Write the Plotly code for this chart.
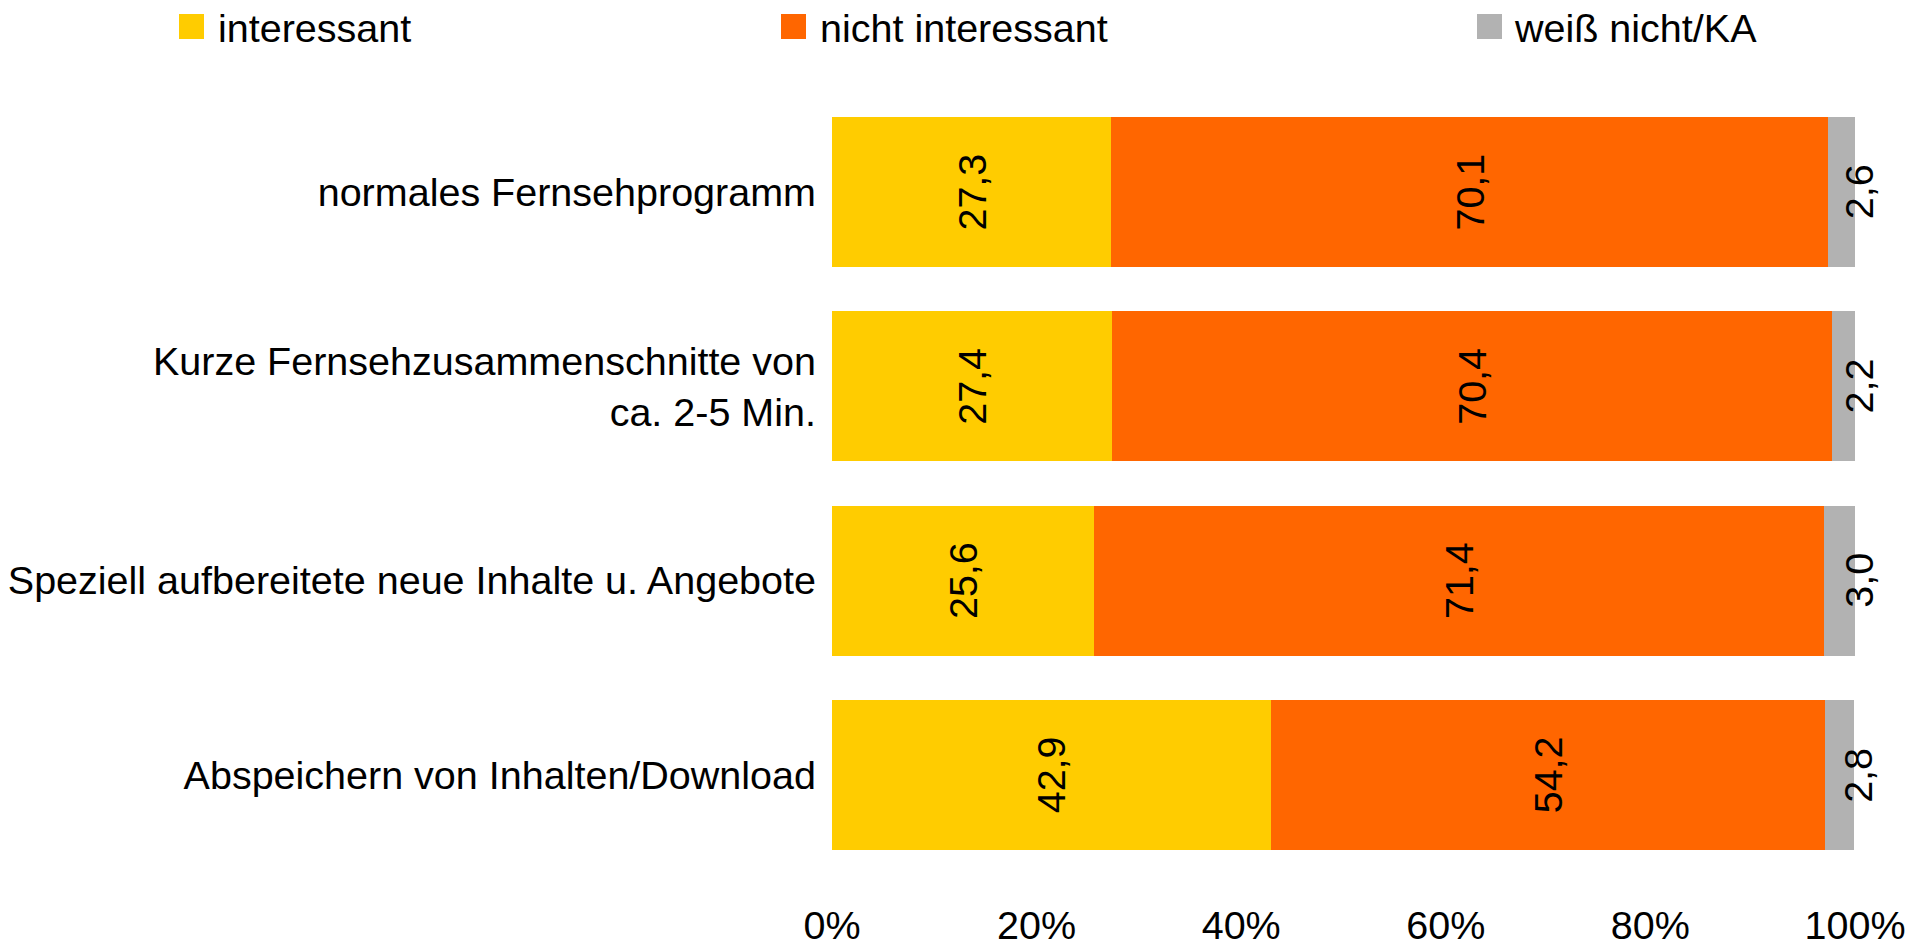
import plotly.graph_objects as go

# data
categories = [
    "normales Fernsehprogramm",
    "Kurze Fernsehzusammenschnitte von<br>ca. 2-5 Min.",
    "Speziell aufbereitete neue Inhalte u. Angebote",
    "Abspeichern von Inhalten/Download",
]
interessant = [27.3, 27.4, 25.6, 42.9]
nicht_interessant = [70.1, 70.4, 71.4, 54.2]
weiss_nicht = [2.6, 2.2, 3.0, 2.8]

series_names = ["interessant", "nicht interessant", "weiß nicht/KA"]
colors = ["#FFCC00", "#FF6600", "#B2B2B2"]

FONT = "Liberation Sans, Arial, sans-serif"
FS = 39.5
W, H = 1928, 951
L, T = 832, 95
PW, PH = 1023, 777
R, B = W - L - PW, H - T - PH


def de(v):
    return f"{v:.1f}".replace(".", ",")


def px_x(p):
    # page pixel -> paper x
    return (p - L) / PW


def px_y(p):
    # page pixel -> paper y
    return (T + PH - p) / PH


fig = go.Figure()
for name, vals, col, lab in zip(series_names,
                                [interessant, nicht_interessant, weiss_nicht],
                                colors, [True, True, False]):
    fig.add_trace(go.Bar(
        name=name, y=categories, x=vals, orientation="h",
        marker=dict(color=col, line=dict(width=0)),
        text=[de(v) for v in vals] if lab else None,
        textposition="inside" if lab else "none",
        insidetextanchor="middle",
        textangle=-90,
        constraintext="none",
        insidetextfont=dict(family=FONT, size=FS, color="black"),
        showlegend=False,
        hoverinfo="skip",
    ))

# small grey values sit just right of the stacked bar end
totals = [round(a + b + c, 1) for a, b, c in zip(interessant, nicht_interessant, weiss_nicht)]
annotations = []
for i, (tot, v) in enumerate(zip(totals, weiss_nicht)):
    annotations.append(dict(
        x=min(tot, 100), y=i, xref="x", yref="y", text=de(v), showarrow=False,
        textangle=-90, xanchor="center", yanchor="middle", xshift=4,
        font=dict(family=FONT, size=FS, color="black"),
    ))

# legend drawn by hand so the swatches match the reference size
shapes = []
sw_left = [179, 781, 1477]
txt_left = [216, 818, 1512]
for name, col, sx, tx in zip(series_names, colors, sw_left, txt_left):
    shapes.append(dict(
        type="rect", xref="paper", yref="paper",
        x0=px_x(sx), x1=px_x(sx + 25), y0=px_y(39), y1=px_y(14),
        fillcolor=col, line=dict(width=0),
    ))
    annotations.append(dict(
        x=px_x(tx), y=px_y(28), xref="paper", yref="paper", text=name,
        showarrow=False, xanchor="left", yanchor="middle",
        font=dict(family=FONT, size=FS, color="black"),
    ))

fig.update_layout(
    barmode="stack",
    bargap=0.228,
    width=W, height=H,
    margin=dict(l=L, r=R, t=T, b=B),
    paper_bgcolor="white",
    plot_bgcolor="white",
    font=dict(family=FONT, size=FS, color="black"),
    shapes=shapes,
    annotations=annotations,
    xaxis=dict(
        range=[0, 100], dtick=20, ticksuffix="%",
        showgrid=False, zeroline=False, showline=False,
        tickfont=dict(family=FONT, size=FS, color="black"),
        ticklabelstandoff=26, automargin=False,
    ),
    yaxis=dict(
        range=[3.5, -0.5],
        showgrid=False, zeroline=False, showline=False,
        tickfont=dict(family=FONT, size=FS, color="black"),
        ticklabelstandoff=15, automargin=False,
    ),
)

# drop the default body margin so the figure fills the window exactly
fig.write_html("out.html",
               config={"displayModeBar": False},
               post_script="document.body.style.margin='0';"
                           "document.body.style.overflow='hidden';")
